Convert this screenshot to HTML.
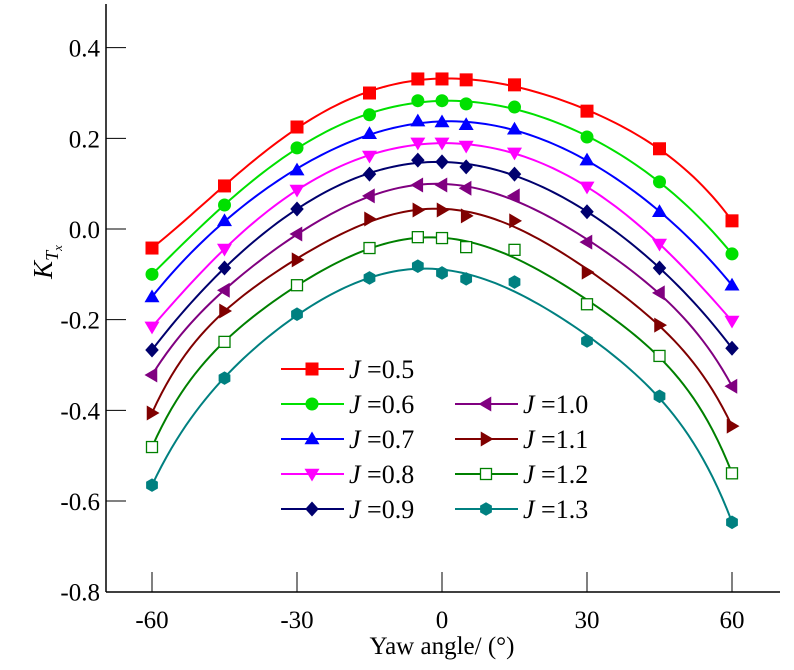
<!DOCTYPE html>
<html><head><meta charset="utf-8"><style>
body{margin:0;background:#fff;}
svg{display:block;}
svg text{font-family:"Liberation Serif","Times New Roman",serif;}
</style></head><body>
<svg id="chart" width="794" height="670"></svg>
<script>
const yaw=[-60,-45,-30,-15,-5,0,5,15,30,45,60];
const yTicks=[0.4,0.2,0.0,-0.2,-0.4,-0.6,-0.8];
const yTickLabels=["0.4","0.2","0.0","-0.2","-0.4","-0.6","-0.8"];
const xTicks=[-60,-30,0,30,60];
const xTickLabels=["-60","-30","0","30","60"];
const seriesNames=["J=0.5","J=0.6","J=0.7","J=0.8","J=0.9","J=1.0","J=1.1","J=1.2","J=1.3"];
const j05=[-0.042,0.095,0.225,0.300,0.331,0.331,0.329,0.318,0.260,0.177,0.018];
const j06=[-0.100,0.053,0.179,0.252,0.283,0.283,0.276,0.269,0.203,0.104,-0.055];
const j07=[-0.150,0.018,0.130,0.210,0.238,0.236,0.230,0.220,0.152,0.038,-0.124];
const j08=[-0.216,-0.044,0.086,0.161,0.190,0.190,0.183,0.168,0.093,-0.033,-0.203];
const j09=[-0.267,-0.086,0.044,0.121,0.152,0.148,0.137,0.121,0.038,-0.086,-0.263];
const j10=[-0.322,-0.135,-0.011,0.073,0.097,0.097,0.090,0.073,-0.029,-0.141,-0.347];
const j11=[-0.406,-0.181,-0.068,0.022,0.042,0.042,0.029,0.018,-0.095,-0.212,-0.435];
const j12=[-0.481,-0.249,-0.124,-0.042,-0.018,-0.020,-0.040,-0.046,-0.166,-0.280,-0.539];
const j13=[-0.565,-0.329,-0.188,-0.108,-0.082,-0.097,-0.110,-0.117,-0.247,-0.369,-0.647];
const allSeries=[j05,j06,j07,j08,j09,j10,j11,j12,j13];
const colors=["#ff0000","#00e000","#0000ff","#ff00ff","#00006e","#800080","#800000","#008000","#008080"];
const markers=["square","circle","up","down","diamond","left","right","opensquare","hex"];

const NS="http://www.w3.org/2000/svg";
const svg=document.getElementById("chart");
const X0=106,Y0=592,XR=780,YT=4;
const xs=v=>442+(v)*290/60;
const ys=v=>229-v*453.3;
function el(t,a,p){const e=document.createElementNS(NS,t);for(const k in a)e.setAttribute(k,a[k]);(p||svg).appendChild(e);return e;}
const FF='"Liberation Serif", serif';

const axes=el("g",{});


const ya=el("line",{x1:X0,y1:YT,x2:X0,y2:Y0,stroke:"#000","stroke-width":1.5},axes);


const xa=el("line",{x1:X0,y1:Y0,x2:XR,y2:Y0,stroke:"#000","stroke-width":1.5},axes);


yTicks.forEach((v,i)=>{
  const y=ys(v);
  if(i<yTicks.length-1){const t=el("line",{x1:X0,y1:y,x2:X0+20,y2:y,stroke:"#000","stroke-width":1},axes);
  
  }
  const l=el("text",{x:X0-6,y:y+9,"text-anchor":"end","font-size":25,"font-family":FF},axes);l.textContent=yTickLabels[i];
  
  
});
xTicks.forEach((v,i)=>{
  const x=xs(v);
  const t=el("line",{x1:x,y1:Y0,x2:x,y2:Y0-20,stroke:"#000","stroke-width":1},axes);
  
  
  const l=el("text",{x:x,y:Y0+36,"text-anchor":"middle","font-size":25,"font-family":FF},axes);l.textContent=xTickLabels[i];
  
  
});
const xt=el("text",{x:442,y:654,"text-anchor":"middle","font-size":25,"font-family":FF});
xt.textContent="Yaw angle/ (°)";


const yt=el("text",{transform:"translate(52,262) rotate(-90)","text-anchor":"middle","font-size":27,"font-style":"italic","font-family":FF});


yt.innerHTML='K<tspan font-size="18" dy="6">T</tspan><tspan font-size="13" dy="4">x</tspan>';

function polyfit(xv,yv,deg){
  const n=deg+1,A=[],b=[];
  for(let i=0;i<n;i++){A.push(new Array(n).fill(0));b.push(0);}
  xv.forEach((x,k)=>{const t=x/60;for(let i=0;i<n;i++){b[i]+=yv[k]*Math.pow(t,i);for(let j=0;j<n;j++)A[i][j]+=Math.pow(t,i+j);}});
  for(let i=0;i<n;i++){let p=i;for(let r=i+1;r<n;r++)if(Math.abs(A[r][i])>Math.abs(A[p][i]))p=r;
    [A[i],A[p]]=[A[p],A[i]];[b[i],b[p]]=[b[p],b[i]];
    for(let r=i+1;r<n;r++){const f=A[r][i]/A[i][i];for(let c=i;c<n;c++)A[r][c]-=f*A[i][c];b[r]-=f*b[i];}}
  const c=new Array(n).fill(0);
  for(let i=n-1;i>=0;i--){let s=b[i];for(let j=i+1;j<n;j++)s-=A[i][j]*c[j];c[i]=s/A[i][i];}
  return x=>{const t=x/60;let s=0;for(let i=0;i<n;i++)s+=c[i]*Math.pow(t,i);return s;};
}
function marker(type,x,y,c,g){
  const s=6.5;let e;
  if(type==="square")e=el("rect",{x:x-s,y:y-s,width:2*s,height:2*s,fill:c},g);
  else if(type==="opensquare")e=el("rect",{x:x-s+1,y:y-s+1,width:2*s-2,height:2*s-2,fill:"#fff",stroke:c,"stroke-width":1.3},g);
  else if(type==="circle")e=el("circle",{cx:x,cy:y,r:s,fill:c},g);
  else{
    let p;const r=7.5;
    if(type==="up")p=[[x,y-r],[x+r,y+r*0.7],[x-r,y+r*0.7]];
    if(type==="down")p=[[x,y+r],[x+r,y-r*0.7],[x-r,y-r*0.7]];
    if(type==="left")p=[[x-r,y],[x+r*0.7,y-r],[x+r*0.7,y+r]];
    if(type==="right")p=[[x+r,y],[x-r*0.7,y-r],[x-r*0.7,y+r]];
    if(type==="diamond")p=[[x,y-r],[x+r*0.9,y],[x,y+r],[x-r*0.9,y]];
    if(type==="hex"){p=[];for(let k=0;k<6;k++){const a=Math.PI/3*k+Math.PI/6;p.push([x+6.8*Math.cos(a),y+6.8*Math.sin(a)]);}}
    e=el("polygon",{points:p.map(q=>q.join(",")).join(" "),fill:c},g);
  }
  return e;
}
allSeries.forEach((vals,si)=>{
  const g=el("g",{});
  
  
  const f=polyfit(yaw,vals,6);
  const a0=yaw[0],a1=yaw[yaw.length-1];
  let d="";
  for(let k=0;k<=120;k++){const a=a0+(a1-a0)*k/120;d+=(k?"L":"M")+xs(a).toFixed(2)+","+ys(f(a)).toFixed(2);}
  const path=el("path",{d:d,fill:"none",stroke:colors[si],"stroke-width":2},g);
  
  
  yaw.forEach((a,i)=>{const m=marker(markers[si],xs(a),ys(vals[i]),colors[si],g);
    
    });
});
const leg=el("g",{});


seriesNames.forEach((n,i)=>{
  const col=i<5?0:1,row=i<5?i:i-4;
  const lx=col?455:281,y=369+row*35;
  const g=el("g",{},leg);
  
  
  el("line",{x1:lx,y1:y,x2:lx+63,y2:y,stroke:colors[i],"stroke-width":2},g);
  marker(markers[i],lx+31,y,colors[i],g);
  const t=el("text",{x:lx+68,y:y+9,"font-size":26,"font-family":FF},g);
  t.innerHTML='<tspan font-style="italic">J</tspan> ='+n.split("=")[1];
});
</script>
</body></html>
